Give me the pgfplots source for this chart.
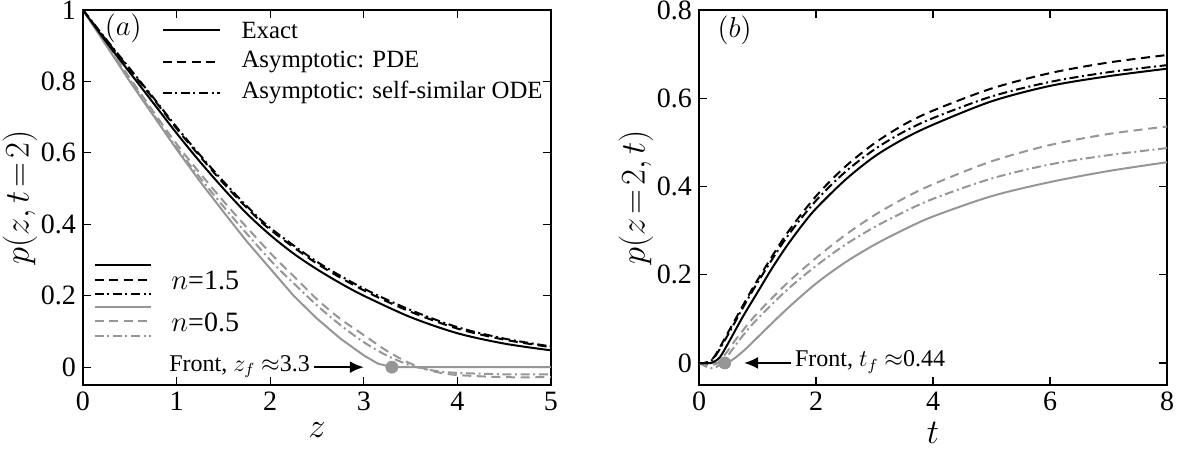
\documentclass[border=0pt]{standalone}
\usepackage{fontspec}
\setmainfont{Liberation Serif}
\usepackage{pgfplots}
\pgfplotsset{compat=1.18}
\usetikzlibrary{arrows.meta}

\definecolor{lgray}{RGB}{150,150,150}

\tikzset{
  exact/.style={line width=1pt, solid},
  pde/.style={line width=1pt, dash pattern=on 4.5pt off 2.8pt},
  ode/.style={line width=1pt, dash pattern=on 4.5pt off 1.8pt on 1pt off 1.8pt},
}

\pgfplotsset{
  panel/.style={
    scale only axis, width=234pt, height=187.5pt,
    axis line style={line width=0.8pt},
    tick style={line width=0.6pt, black},
    tick align=inside, major tick length=4pt,
    ticklabel style={font=\fontsize{14}{16}\selectfont},
    label style={font=\fontsize{18}{20}\selectfont},
    xticklabel={\pgfmathprintnumber[assume math mode=true]{\tick}},
    yticklabel={\pgfmathprintnumber[assume math mode=true]{\tick}},
    /pgf/number format/fixed,
    ymin=-0.05,
  },
}

\newcommand{\legfont}{\fontsize{12.4}{14}\selectfont}

\begin{document}
\begin{tikzpicture}
\useasboundingbox (-41.5pt,-36pt) rectangle (555pt,192.5pt);

% (a) profile at t = 2
\begin{axis}[panel, at={(0pt,0pt)}, anchor=south west,
  xmin=0, xmax=5, ymax=1,
  xtick={0,1,2,3,4,5}, ytick={0,0.2,0.4,0.6,0.8,1},
  xlabel={$z$}, ylabel={$p(z,t\!=\!2)$},
  xlabel style={yshift=1pt}, ylabel style={yshift=-5pt}]

\addplot[lgray, exact] coordinates {(0,1)(0.25,0.9)(0.5,0.8)(0.75,0.705)(1,0.61)(1.25,0.52)(1.5,0.435)(1.75,0.352)(2,0.276)(2.25,0.2)(2.5,0.136)(2.75,0.08)(3,0.033)(3.15,0.01)(3.3,0)(5,0)};
\addplot[lgray, pde, smooth] coordinates {(0,1)(0.5,0.81)(1,0.625)(1.5,0.465)(2,0.32)(2.25,0.255)(2.5,0.19)(2.75,0.135)(3,0.09)(3.25,0.045)(3.5,0.01)(3.75,-0.012)(4,-0.022)(4.5,-0.028)(5,-0.028)};
\addplot[lgray, ode, smooth] coordinates {(0,1)(0.5,0.805)(1,0.615)(1.5,0.45)(2,0.3)(2.25,0.235)(2.5,0.173)(2.75,0.118)(3,0.07)(3.25,0.032)(3.5,0.005)(3.75,-0.01)(4,-0.016)(4.5,-0.02)(5,-0.02)};

\addplot[black, exact, smooth] coordinates {(0,1)(0.25,0.91)(0.5,0.825)(0.75,0.74)(1,0.655)(1.25,0.575)(1.5,0.5)(1.75,0.43)(2,0.37)(2.25,0.318)(2.5,0.274)(2.75,0.235)(3,0.2)(3.5,0.14)(4,0.095)(4.5,0.066)(5,0.047)};
\addplot[black, pde, smooth] coordinates {(0,1)(0.25,0.915)(0.5,0.833)(0.75,0.752)(1,0.668)(1.25,0.59)(1.5,0.515)(1.75,0.446)(2,0.385)(2.5,0.29)(3,0.215)(3.5,0.155)(4,0.108)(4.5,0.077)(5,0.056)};
\addplot[black, ode, smooth] coordinates {(0,1)(0.25,0.917)(0.5,0.836)(0.75,0.755)(1,0.672)(1.25,0.594)(1.5,0.52)(1.75,0.451)(2,0.39)(2.5,0.295)(3,0.22)(3.5,0.16)(4,0.112)(4.5,0.08)(5,0.058)};

\addplot[only marks, mark=*, mark size=3pt, lgray] coordinates {(3.3,0)};

\node[font=\fontsize{15}{17}\selectfont] at (axis cs:0.43,0.95) {$(a)$};
% style legend
\draw[black, exact] (axis cs:0.85,0.944) -- (axis cs:1.46,0.944);
\draw[black, pde]   (axis cs:0.85,0.855) -- (axis cs:1.46,0.855);
\draw[black, ode]   (axis cs:0.85,0.769) -- (axis cs:1.46,0.769);
\node[anchor=west, font=\legfont, inner sep=0pt] at (axis cs:1.69,0.944) {Exact};
\node[anchor=west, font=\legfont, inner sep=0pt] at (axis cs:1.69,0.855) {Asymptotic: PDE};
\node[anchor=west, font=\legfont, inner sep=0pt] at (axis cs:1.69,0.769) {Asymptotic: self-similar ODE};
% n legend
\draw[black, exact] (axis cs:0.125,0.285) -- (axis cs:0.73,0.285);
\draw[black, pde]   (axis cs:0.125,0.243) -- (axis cs:0.73,0.243);
\draw[black, ode]   (axis cs:0.125,0.204) -- (axis cs:0.73,0.204);
\draw[lgray, exact] (axis cs:0.125,0.168) -- (axis cs:0.73,0.168);
\draw[lgray, pde]   (axis cs:0.125,0.128) -- (axis cs:0.73,0.128);
\draw[lgray, ode]   (axis cs:0.125,0.087) -- (axis cs:0.73,0.087);
\node[anchor=west, font=\fontsize{14}{16}\selectfont, inner sep=0pt] at (axis cs:0.94,0.243) {$n$=1.5};
\node[anchor=west, font=\fontsize{14}{16}\selectfont, inner sep=0pt] at (axis cs:0.94,0.126) {$n$=0.5};
% front
\node[anchor=east, font=\fontsize{12}{14}\selectfont, inner sep=1pt] at (axis cs:2.45,0.002) {Front, $z_f$ $\approx$3.3};
\draw[-{Latex[length=7pt,width=6pt]}, line width=1pt] (axis cs:2.47,0) -- (axis cs:3.0,0);
\end{axis}

% (b) history at z = 2
\begin{axis}[panel, at={(308pt,0pt)}, anchor=south west,
  xmin=0, xmax=8, ymax=0.8,
  xtick={0,2,4,6,8}, ytick={0,0.2,0.4,0.6,0.8},
  xlabel={$t$}, ylabel={$p(z\!=\!2,t)$},
  xlabel style={yshift=1pt}, ylabel style={yshift=-5pt}]

\addplot[lgray, exact, smooth] coordinates {(0,0)(0.44,0)(0.6,0.01)(0.8,0.032)(1,0.058)(1.5,0.122)(2,0.18)(2.5,0.228)(3,0.268)(3.5,0.302)(4,0.332)(5,0.378)(6,0.41)(7,0.435)(8,0.455)};
\addplot[lgray, pde, smooth] coordinates {(0,0)(0.15,-0.005)(0.3,-0.002)(0.45,0.02)(0.6,0.048)(0.8,0.082)(1,0.113)(1.5,0.18)(2,0.238)(2.5,0.29)(3,0.335)(3.5,0.373)(4,0.405)(5,0.457)(6,0.494)(7,0.519)(8,0.536)};
\addplot[lgray, ode, smooth] coordinates {(0,0)(0.2,-0.012)(0.35,-0.005)(0.5,0.018)(0.75,0.062)(1,0.1)(1.5,0.165)(2,0.22)(2.5,0.268)(3,0.308)(3.5,0.342)(4,0.372)(5,0.418)(6,0.45)(7,0.471)(8,0.487)};

\addplot[black, exact, smooth] coordinates {(0,0)(0.2,0)(0.35,0.012)(0.5,0.045)(0.75,0.105)(1,0.16)(1.25,0.215)(1.5,0.265)(1.75,0.31)(2,0.35)(2.5,0.415)(3,0.468)(3.5,0.508)(4,0.54)(5,0.593)(6,0.628)(7,0.65)(8,0.667)};
\addplot[black, pde, smooth] coordinates {(0,0)(0.1,0)(0.25,0.012)(0.5,0.07)(0.75,0.13)(1,0.188)(1.5,0.293)(2,0.378)(2.5,0.445)(3,0.498)(3.5,0.54)(4,0.572)(5,0.622)(6,0.657)(7,0.681)(8,0.698)};
\addplot[black, ode, smooth] coordinates {(0,0)(0.1,0)(0.25,0.01)(0.5,0.065)(0.75,0.125)(1,0.182)(1.5,0.285)(2,0.368)(2.5,0.433)(3,0.484)(3.5,0.524)(4,0.555)(5,0.604)(6,0.637)(7,0.659)(8,0.675)};

\addplot[only marks, mark=*, mark size=3pt, lgray] coordinates {(0.44,0)};

\node[font=\fontsize{15}{17}\selectfont] at (axis cs:0.61,0.755) {$(b)$};
\draw[-{Latex[length=7pt,width=6pt]}, line width=1pt] (axis cs:1.58,0) -- (axis cs:0.77,0);
\node[anchor=west, font=\fontsize{12}{14}\selectfont, inner sep=1pt] at (axis cs:1.6,0.002) {Front, $t_f$ $\approx$0.44};
\end{axis}
\end{tikzpicture}
\end{document}
